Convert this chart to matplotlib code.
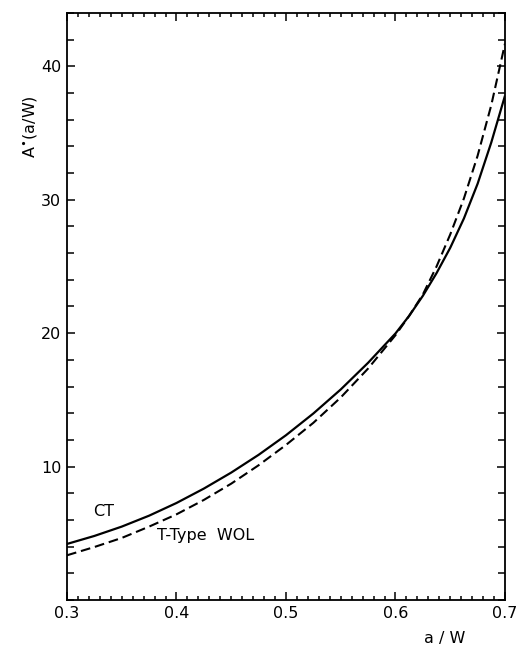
import matplotlib
matplotlib.use('Agg')
import matplotlib.pyplot as plt
from matplotlib.ticker import MultipleLocator

# values
a_over_w = [0.300, 0.325, 0.350, 0.375, 0.400, 0.425, 0.450, 0.475, 0.500,
            0.525, 0.550, 0.575, 0.600, 0.6125, 0.625, 0.6375, 0.650,
            0.6625, 0.675, 0.6875, 0.700]
a_ct = [4.2, 4.8, 5.5, 6.32, 7.27, 8.35, 9.55, 10.88, 12.35,
        13.98, 15.78, 17.78, 19.98, 21.3, 22.8, 24.5, 26.4,
        28.6, 31.2, 34.3, 37.8]
a_wol = [3.35, 3.97, 4.65, 5.5, 6.42, 7.5, 8.72, 10.1, 11.62,
         13.28, 15.18, 17.35, 19.85, 21.3, 22.9, 25.0, 27.4,
         30.1, 33.3, 37.1, 41.7]

plt.rcParams['font.family'] = ['DejaVu Sans']
plt.rcParams['lines.scale_dashes'] = False

fig = plt.figure(figsize=(5.19, 6.49), dpi=100, facecolor='w')
ax = fig.add_axes([0.129, 0.0755, 0.844, 0.9045])

ax.plot(a_over_w, a_ct, color='k', lw=1.6, solid_capstyle='butt')
ax.plot(a_over_w, a_wol, color='k', lw=1.5, dashes=(7, 3.5))

ax.set_xlim(0.3, 0.7)
ax.set_ylim(0, 44)
ax.xaxis.set_major_locator(MultipleLocator(0.1))
ax.xaxis.set_minor_locator(MultipleLocator(0.01))
ax.yaxis.set_major_locator(MultipleLocator(10))
ax.yaxis.set_minor_locator(MultipleLocator(2))
ax.set_yticks([10, 20, 30, 40])
ax.set_xticks([0.3, 0.4, 0.5, 0.6, 0.7])
ax.set_xticklabels(['0.3', '0.4', '0.5', '0.6', '0.7'])

ax.tick_params(which='both', direction='in', top=True, right=True,
               width=1.1, labelsize=11.5, pad=4)
ax.tick_params(which='major', length=6)
ax.tick_params(which='minor', length=3)
ax.tick_params(axis='y', which='minor', length=5)
for s in ax.spines.values():
    s.set_linewidth(1.3)

ax.text(0.324, 6.6, 'CT', fontsize=11.5, va='center', ha='left')
ax.text(0.382, 4.85, 'T-Type  WOL', fontsize=11.5, va='center', ha='left')

ax.text(-0.085, 35.5 / 44, 'A$^{\\bullet}$(a/W)', transform=ax.transAxes,
        rotation=90, fontsize=11.5, va='center', ha='center')
ax.text(0.645, -0.066, 'a / W', transform=ax.get_xaxis_transform(),
        fontsize=11.5, va='center', ha='center')

fig.savefig('out.png', dpi=100, facecolor='w')
